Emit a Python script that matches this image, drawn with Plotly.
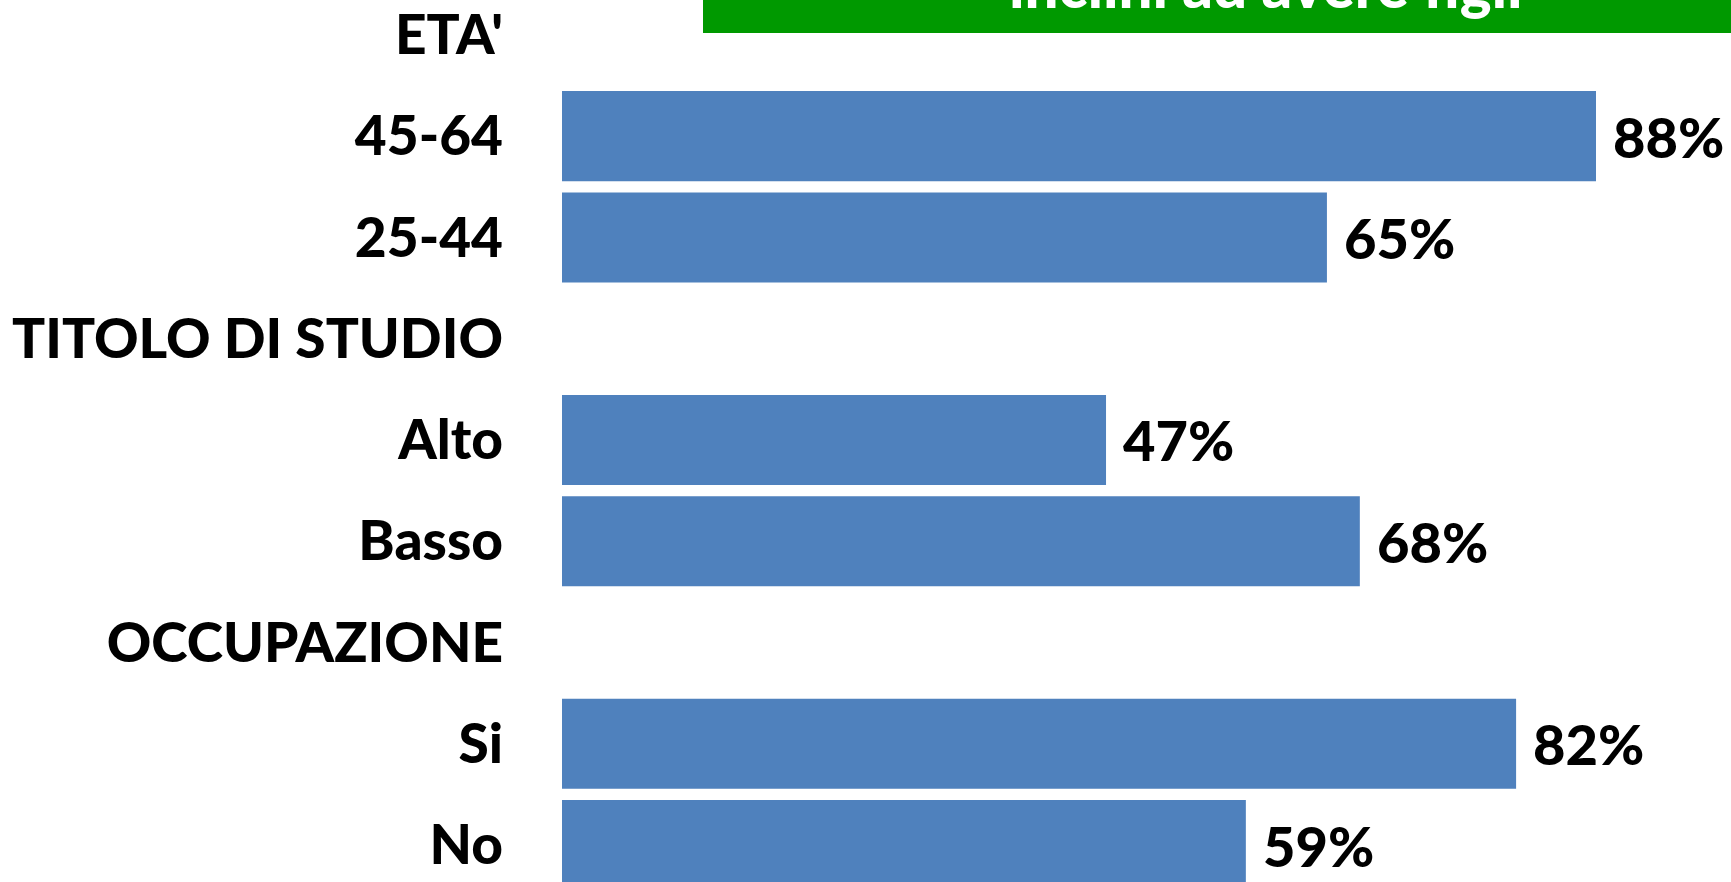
import plotly.graph_objects as go

# righe del grafico (intestazioni di gruppo senza barra)
categorie = ["ETA'", "45-64", "25-44", "TITOLO DI STUDIO", "Alto", "Basso",
             "OCCUPAZIONE", "Si", "No"]
valori = [None, 88.0, 65.1, None, 46.3, 67.9, None, 81.2, 58.2]
etichette = ["", "88%", "65%", "", "47%", "68%", "", "82%", "59%"]
titolo = "inclini ad avere figli"

BLU = "#4F81BD"
VERDE = "#009900"
FONT = "Lato"

fig = go.Figure()
fig.add_trace(go.Bar(
    x=valori, y=categorie, orientation="h",
    marker=dict(color=BLU, line=dict(width=0)),
    hoverinfo="skip",
))

# etichette percentuali a destra delle barre
for cat, v, t in zip(categorie, valori, etichette):
    if v is None:
        continue
    fig.add_annotation(
        x=v, y=cat, text=t, showarrow=False,
        xanchor="left", yanchor="middle", xshift=15,
        font=dict(family=FONT, size=56, color="black", weight=900),
    )

# riquadro verde del titolo (tagliato in alto)
fig.add_shape(
    type="rect", xref="paper", yref="paper",
    x0=(703 - 562) / 1169, x1=1.0, y0=1 - 31 / 882, y1=1.05,
    fillcolor=VERDE, line=dict(width=0), layer="above",
)
fig.add_annotation(
    xref="paper", yref="paper", x=(1265 - 562) / 1169, y=1 + 17 / 882,
    text=titolo, showarrow=False, xanchor="center", yanchor="middle",
    font=dict(family=FONT, size=60, color="white", weight=900),
)

fig.update_layout(
    width=1731, height=882,
    margin=dict(l=562, r=0, t=0, b=0),
    plot_bgcolor="white", paper_bgcolor="white",
    bargap=0.11, showlegend=False,
    xaxis=dict(range=[0, 1169 / 11.75], visible=False),
    yaxis=dict(
        type="category", categoryorder="array", categoryarray=categorie,
        range=[8.365, -0.325], showgrid=False, zeroline=False, showline=False,
        ticks="", ticklabelstandoff=58,
        tickfont=dict(family=FONT, size=55, color="black", weight=900),
    ),
)

fig.write_html(
    "out.html",
    config={"displayModeBar": False},
    post_script="document.body.style.margin='0px';",
)
